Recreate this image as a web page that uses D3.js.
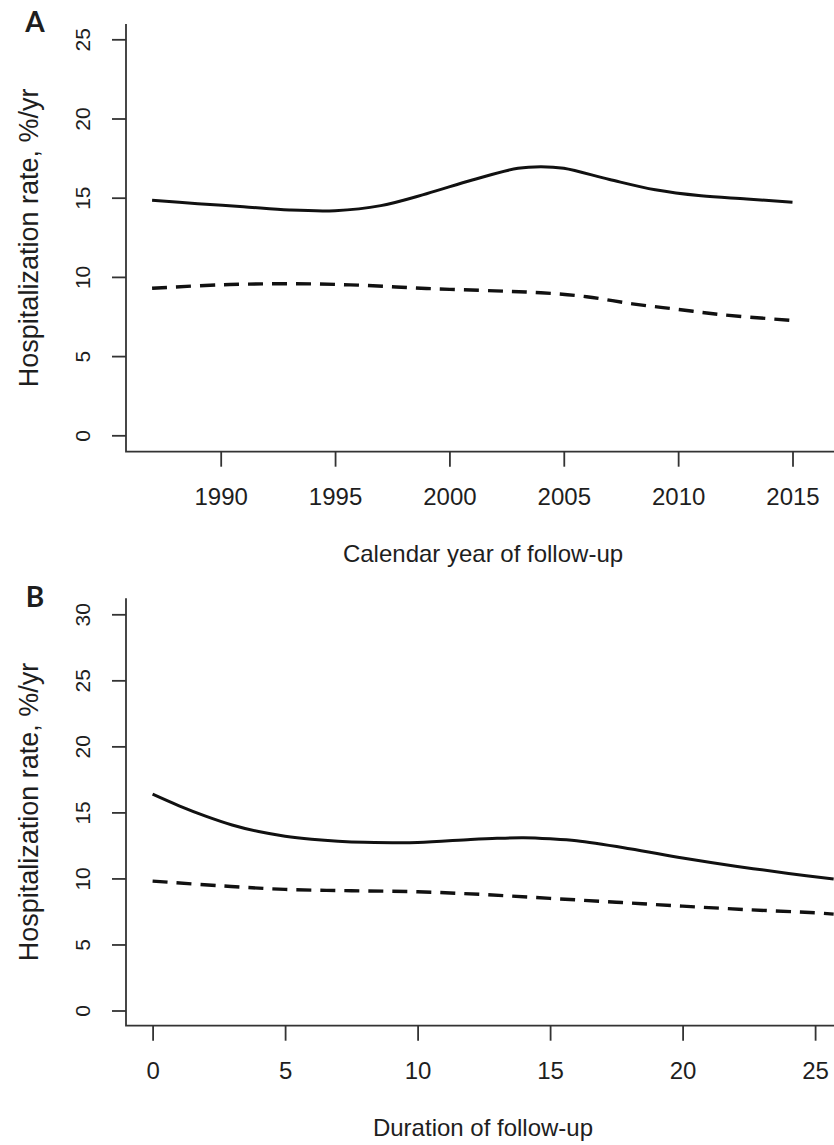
<!DOCTYPE html>
<html>
<head>
<meta charset="utf-8">
<script src="https://cdn.jsdelivr.net/npm/d3@7"></script>
<style>
  html, body { margin: 0; padding: 0; background: #fff; }
  svg { display: block; }
  text { font-family: "Liberation Sans", Arial, Helvetica, sans-serif; fill: #1e1e1e; }
</style>
</head>
<body>
<svg id="chart" width="834" height="1145"></svg>
<script>
// ---- Panel A data (calendar year of follow-up) ----
const yearsSolidA = [1987, 1989, 1991, 1993, 1995, 1997, 1999, 2001, 2003, 2004, 2005, 2007, 2009, 2011, 2013, 2015];
const solidA      = [14.84, 14.62, 14.43, 14.22, 14.18, 14.5, 15.25, 16.12, 16.86, 16.96, 16.86, 16.15, 15.5, 15.12, 14.92, 14.71];
const yearsDashedA = [1987, 1990, 1993, 1996, 1999, 2002, 2004, 2006, 2008, 2010, 2012, 2015];
const dashedA      = [9.28, 9.5, 9.57, 9.48, 9.27, 9.12, 9.0, 8.75, 8.3, 7.95, 7.6, 7.25];
const xTicksA = [1990, 1995, 2000, 2005, 2010, 2015];
const yTicksA = [0, 5, 10, 15, 20, 25];

// ---- Panel B data (duration of follow-up) ----
const durSolidB = [0, 1, 2, 3, 4, 5, 6, 7, 8, 10, 12, 13, 14, 15, 16, 18, 20, 22, 24, 25.7];
const solidB    = [16.38, 15.5, 14.72, 14.05, 13.55, 13.2, 12.97, 12.82, 12.74, 12.72, 12.95, 13.04, 13.08, 13.0, 12.85, 12.25, 11.55, 10.93, 10.38, 9.95];
const durDashedB = [0, 2.5, 5, 7.5, 10, 12.5, 15, 17.5, 20, 22.5, 25, 25.7];
const dashedB    = [9.8, 9.45, 9.17, 9.07, 8.99, 8.78, 8.49, 8.2, 7.9, 7.63, 7.4, 7.3];
const xTicksB = [0, 5, 10, 15, 20, 25];
const yTicksB = [0, 5, 10, 15, 20, 25, 30];

const svg = d3.select("#chart");
svg.append("rect").attr("width", 834).attr("height", 1145).attr("fill", "#fff");

function panel(cfg) {
  const g = svg.append("g");
  const { x, y, left, right, top, bottom } = cfg;

  // L-shaped box
  g.append("path")
    .attr("d", `M${left},${top}V${bottom}H${right}`)
    .attr("fill", "none").attr("stroke", "#333").attr("stroke-width", 1.8);

  // x axis ticks
  const xa = g.append("g").attr("transform", `translate(0,${bottom})`)
    .call(d3.axisBottom(x).tickValues(cfg.xTicks).tickSize(15).tickSizeOuter(0).tickPadding(0).tickFormat(d3.format("d")));
  xa.select(".domain").remove();
  xa.selectAll(".tick line").attr("stroke", "#333").attr("stroke-width", 1.8);
  xa.selectAll(".tick text").attr("y", 53.5).attr("dy", 0)
    .style("font-size", "24px").style("font-family", "'Liberation Sans', Arial, sans-serif").attr("fill", "#1e1e1e");

  // y axis ticks with rotated labels
  const ya = g.append("g").attr("transform", `translate(${left},0)`)
    .call(d3.axisLeft(y).tickValues(cfg.yTicks).tickSize(14).tickSizeOuter(0).tickFormat(d3.format("d")));
  ya.select(".domain").remove();
  ya.selectAll(".tick line").attr("stroke", "#333").attr("stroke-width", 1.8);
  ya.selectAll(".tick text")
    .attr("transform", "rotate(-90)")
    .attr("x", 0).attr("y", -36).attr("dy", 0)
    .attr("text-anchor", "middle")
    .style("font-size", "21px").style("font-family", "'Liberation Sans', Arial, sans-serif").attr("fill", "#1e1e1e");

  // lines
  const line = d3.line().x(d => x(d[0])).y(d => y(d[1])).curve(d3.curveCatmullRom.alpha(0.5));
  g.append("path").datum(d3.zip(cfg.dashX, cfg.dashY))
    .attr("d", line).attr("fill", "none").attr("stroke", "#111")
    .attr("stroke-width", 3.4).attr("stroke-dasharray", "15,9");
  g.append("path").datum(d3.zip(cfg.solidX, cfg.solidY))
    .attr("d", line).attr("fill", "none").attr("stroke", "#111")
    .attr("stroke-width", 3);

  // titles
  g.append("text")
    .attr("transform", `translate(38,${(top + bottom) / 2}) rotate(-90)`)
    .attr("text-anchor", "middle").style("font-size", "27px")
    .text("Hospitalization rate, %/yr");
  g.append("text")
    .attr("x", 483).attr("y", bottom + 110)
    .attr("text-anchor", "middle").style("font-size", "24px")
    .text(cfg.xTitle);
  g.append("text")
    .attr("x", 35).attr("y", cfg.letterY)
    .attr("text-anchor", "middle")
    .style("font-family", "Lato, 'Open Sans', sans-serif").style("font-weight", "bold").style("font-size", "28px")
    .attr("fill", "#111")
    .text(cfg.letter);
}

panel({
  x: d3.scaleLinear().domain([1990, 2015]).range([220.7, 792.5]),
  y: d3.scaleLinear().domain([0, 25]).range([435.3, 39.3]),
  left: 126, right: 834, top: 24, bottom: 451.7,
  xTicks: xTicksA, yTicks: yTicksA,
  solidX: yearsSolidA, solidY: solidA, dashX: yearsDashedA, dashY: dashedA,
  xTitle: "Calendar year of follow-up", letter: "A", letterY: 32
});

panel({
  x: d3.scaleLinear().domain([0, 25]).range([152.6, 815.1]),
  y: d3.scaleLinear().domain([0, 30]).range([1010.5, 614.3]),
  left: 126, right: 834, top: 598.3, bottom: 1025.7,
  xTicks: xTicksB, yTicks: yTicksB,
  solidX: durSolidB, solidY: solidB, dashX: durDashedB, dashY: dashedB,
  xTitle: "Duration of follow-up", letter: "B", letterY: 607
});
</script>
</body>
</html>
